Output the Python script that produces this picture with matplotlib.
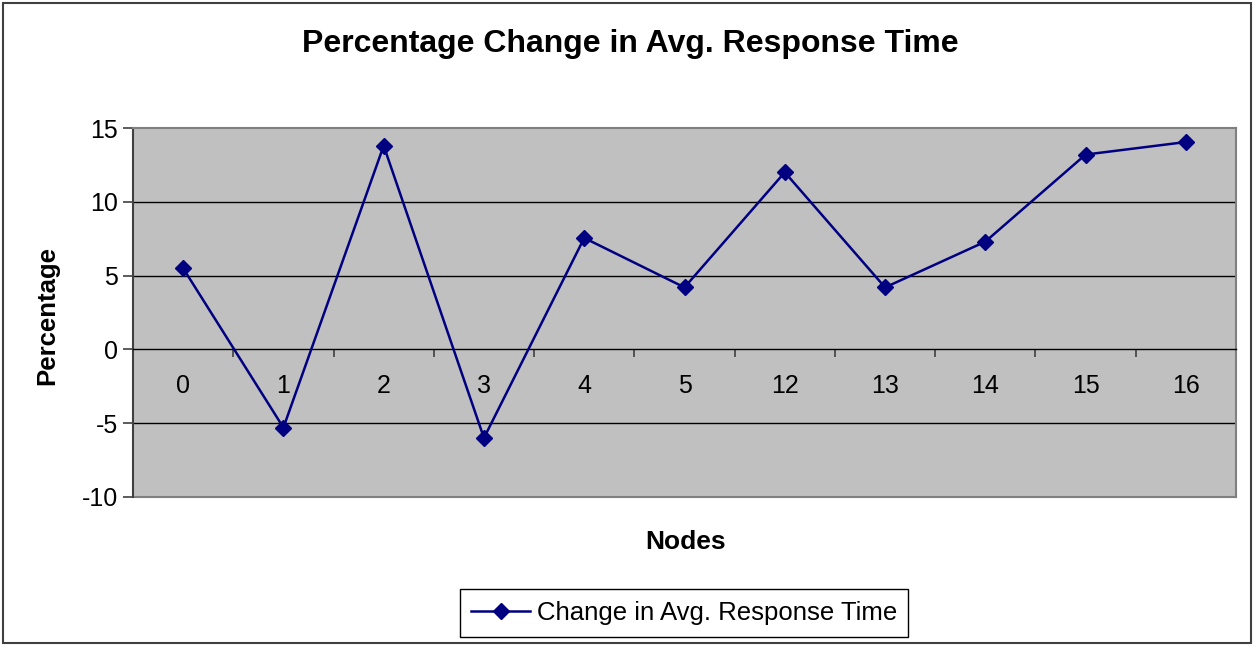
import matplotlib
matplotlib.use("Agg")
import matplotlib.pyplot as plt
from matplotlib.patches import Rectangle
from matplotlib.ticker import FixedLocator, NullFormatter

nodes = ["0", "1", "2", "3", "4", "5", "12", "13", "14", "15", "16"]
change = [5.5, -5.3, 13.8, -6.0, 7.55, 4.2, 12.0, 4.2, 7.3, 13.2, 14.05]
yticks = [-10, -5, 0, 5, 10, 15]

plt.rcParams['font.family'] = ['Liberation Sans', 'DejaVu Sans']

W, H = 1257, 646
fig = plt.figure(figsize=(W / 100, H / 100), dpi=100)
fig.patch.set_facecolor('white')

# plot area in pixels
L, T, R, B = 133, 128, 1236, 497
ax = fig.add_axes([L / W, 1 - B / H, (R - L) / W, (B - T) / H])
ax.set_facecolor('#C0C0C0')

x = list(range(len(nodes)))
line, = ax.plot(x, change, color='#000080', lw=1.8, marker='D', ms=8,
                markerfacecolor='#000080', markeredgecolor='#000080',
                label='Change in Avg. Response Time', zorder=5)

ax.set_xlim(-0.5, len(nodes) - 0.5)
ax.set_ylim(-10, 15)

# gridlines
for yv in yticks:
    if yv not in (-10, 0, 15):
        ax.axhline(yv, color='black', lw=1.0, zorder=1)

for s in ['top', 'right']:
    ax.spines[s].set_color('#808080')
    ax.spines[s].set_linewidth(1.5)
ax.spines['left'].set_color('#404040')
ax.spines['left'].set_linewidth(1.5)
ax.spines['bottom'].set_position(('data', 0))
ax.spines['bottom'].set_color('black')
ax.spines['bottom'].set_linewidth(1.0)
ax.axhline(-10, color='#808080', lw=1.5, zorder=2, clip_on=False)

ax.set_yticks(yticks)
ax.set_yticklabels([str(v) for v in yticks], fontsize=18)
ax.tick_params(axis='y', direction='out', length=7, width=1.2, color='#404040', pad=4)

ax.set_xticks(x)
ax.set_xticklabels(nodes, fontsize=18)
ax.tick_params(axis='x', which='major', length=0, pad=18)
ax.xaxis.set_minor_locator(FixedLocator([i + 0.5 for i in range(len(nodes) - 1)] + [len(nodes) - 0.5]))
ax.xaxis.set_minor_formatter(NullFormatter())
ax.tick_params(axis='x', which='minor', direction='out', length=6, width=1.2, color='#404040')

fig.text(630 / W, 1 - 44 / H, 'Percentage Change in Avg. Response Time',
         ha='center', va='center', fontsize=23, fontweight='bold')
fig.text(686 / W, 1 - 542 / H, 'Nodes', ha='center', va='center',
         fontsize=19, fontweight='bold')
fig.text(47 / W, 1 - 315 / H, 'Percentage', ha='center', va='center',
         fontsize=18.5, fontweight='bold', rotation=90)

leg = fig.legend(handles=[line], loc='center', bbox_to_anchor=(684 / W, 1 - 613 / H),
                 fontsize=18.5, frameon=True, fancybox=False, framealpha=1,
                 edgecolor='black', handlelength=2.3, handletextpad=0.25,
                 borderpad=0.45)
leg.get_frame().set_linewidth(1.0)

fig.add_artist(Rectangle((3 / W, 3 / H), (1251 - 3) / W, (643 - 3) / H,
                         transform=fig.transFigure, fill=False,
                         edgecolor='#404040', lw=1.5))

fig.savefig('out.png', dpi=100)
